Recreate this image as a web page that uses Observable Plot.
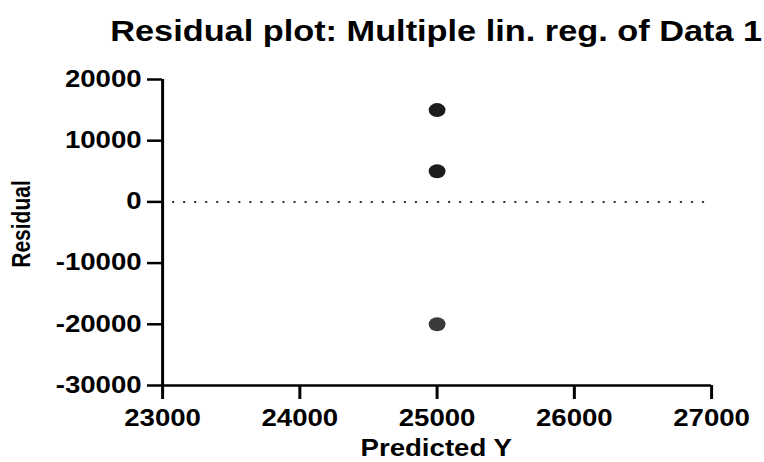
<!DOCTYPE html>
<html><head><meta charset="utf-8">
<script src="https://cdn.jsdelivr.net/npm/d3@7"></script>
<script src="https://cdn.jsdelivr.net/npm/@observablehq/plot@0.6"></script>
<style>
body{margin:0;background:#fff;overflow:hidden}
#wrap{position:relative;width:637px;height:462px;transform:scaleX(1.2);transform-origin:0 0;font-family:"Liberation Sans",Arial,sans-serif;color:#000}
#title{position:absolute;left:88px;width:551px;top:15px;text-align:center;font-weight:bold;font-size:28.6px;line-height:32px;white-space:nowrap}
#xlabel{position:absolute;left:135px;width:457px;top:439px;text-align:center;font-weight:bold;font-size:23px;line-height:18px}
#ylabel{position:absolute;left:18px;top:224px;font-weight:bold;font-size:21px;line-height:24px;transform:translate(-50%,-50%) rotate(-90deg);white-space:nowrap}
#chart{position:absolute;left:0;top:0}
</style></head><body>
<div id="wrap">
<div id="chart"></div>
<div id="title">Residual plot: Multiple lin. reg. of Data 1</div>
<div id="xlabel">Predicted Y</div>
<div id="ylabel">Residual</div>
</div>
<script>
const predicted = [25000, 25000, 25000];
const residuals = [15000, 5000, -20000];
const pointColors = ["#1c1c1c", "#1c1c1c", "#3a3a3a"];
const xTicks = [23000, 24000, 25000, 26000, 27000];
const yTicks = [20000, 10000, 0, -10000, -20000, -30000];
const xDomain = [23000, 27000];
const yDomain = [-30000, 20000];
const zeroLineEnd = 26950;

const points = predicted.map((p, i) => ({x: p, y: residuals[i], c: pointColors[i]}));

const chart = Plot.plot({
  width: 637,
  height: 462,
  marginLeft: 135,
  marginRight: 44.5,
  marginTop: 79,
  marginBottom: 77,
  style: {fontFamily: '"Liberation Sans", Arial, sans-serif', fontWeight: "bold", fontSize: "23px", color: "#000", background: "transparent"},
  x: {domain: xDomain},
  y: {domain: yDomain},
  marks: [
    Plot.axisX({ticks: xTicks, tickFormat: d => String(d), tickSize: 14, tickPadding: 10, strokeWidth: 2.5, label: null}),
    Plot.axisY({ticks: yTicks, tickFormat: d => String(d), tickSize: 12.5, tickPadding: 5, strokeWidth: 2.5, label: null}),
    Plot.ruleY([0], {x1: xDomain[0], x2: zeroLineEnd, stroke: "#222", strokeWidth: 2, strokeDasharray: "0.1 9.1", strokeLinecap: "round"}),
    Plot.ruleX([xDomain[0]], {y1: yDomain[0], y2: yDomain[1], stroke: "#000", strokeWidth: 2.5}),
    Plot.ruleY([yDomain[0]], {x1: xDomain[0], x2: xDomain[1], stroke: "#000", strokeWidth: 2.5}),
    Plot.dot(points, {x: "x", y: "y", r: 7, fill: "c", stroke: null})
  ]
});
document.getElementById("chart").appendChild(chart);
</script>
</body></html>
